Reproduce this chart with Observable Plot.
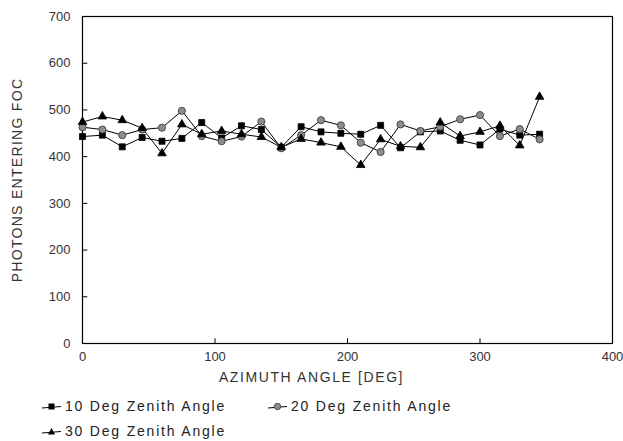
<!DOCTYPE html>
<html>
<head>
<meta charset="utf-8">
<script src="https://cdn.jsdelivr.net/npm/d3@7"></script>
<script src="https://cdn.jsdelivr.net/npm/@observablehq/plot@0.6"></script>
<style>
  body { margin: 0; background: #fff; font-family: "Liberation Sans", Arial, sans-serif; }
  #chart svg { display: block; }
  .legend { position: relative; height: 49px; width: 623px; font-size: 14px; letter-spacing: 1.8px; color: #222; }
  .item { position: absolute; display: flex; align-items: center; }
  .item svg { margin-right: 4px; }
</style>
</head>
<body>
<div id="chart"></div>
<div class="legend" id="legend"></div>
<script>
const azimuth = [0, 15, 30, 45, 60, 75, 90, 105, 120, 135, 150, 165, 180, 195, 210, 225, 240, 255, 270, 285, 300, 315, 330, 345];
const zenith10 = [443, 446, 421, 441, 433, 439, 473, 440, 466, 458, 420, 464, 453, 450, 448, 467, 419, 453, 455, 435, 425, 459, 446, 448];
const zenith20 = [463, 458, 446, 458, 462, 498, 444, 433, 443, 475, 418, 446, 478, 467, 430, 410, 469, 455, 464, 480, 489, 444, 459, 437];
const zenith30 = [474, 486, 478, 461, 407, 469, 448, 455, 448, 442, 420, 438, 430, 421, 382, 437, 422, 420, 473, 444, 453, 466, 424, 528];
const seriesNames = ["10 Deg Zenith Angle", "20 Deg Zenith Angle", "30 Deg Zenith Angle"];
const xTicks = [0, 100, 200, 300, 400];
const yTicks = [0, 100, 200, 300, 400, 500, 600, 700];

const styles = [
  {symbol: "square", fill: "#000", stroke: "#000", r: 3.4},
  {symbol: "circle", fill: "#8c8c8c", stroke: "#333", r: 3.6},
  {symbol: "triangle", fill: "#000", stroke: "#000", r: 3.2}
];
const values = [zenith10, zenith20, zenith30];
const rows = values.map((vals, i) => azimuth.map((a, j) => ({az: a, v: vals[j], s: seriesNames[i]})));

const marks = [Plot.frame({stroke: "#000", strokeWidth: 1.2})];
rows.forEach((data) => {
  marks.push(Plot.line(data, {x: "az", y: "v", stroke: "#000", strokeWidth: 1}));
});
rows.forEach((data, i) => {
  const st = styles[i];
  marks.push(Plot.dot(data, {x: "az", y: "v", symbol: () => st.symbol, r: st.r, fill: st.fill, stroke: st.stroke, strokeWidth: 0.8}));
});
marks.push(Plot.axisY(yTicks, {tickSize: 0, tickPadding: 12, fontSize: 13, fill: "#333", label: null}));
marks.push(Plot.axisX(xTicks, {tickSize: 0, tickPadding: 8, fontSize: 13, fill: "#333", label: null}));
// inward tick marks
marks.push(Plot.ruleY(yTicks.slice(1, -1), {y: d => d, x1: 0, x2: 4, stroke: "#000"}));
marks.push(Plot.ruleX(xTicks.slice(1, -1), {x: d => d, y1: 0, y2: 10, stroke: "#000"}));
marks.push(Plot.text(["AZIMUTH ANGLE [DEG]"], {frameAnchor: "bottom", dx: -36, dy: 38, fontSize: 14, fill: "#333"}));
marks.push(Plot.text(["PHOTONS ENTERING FOC"], {frameAnchor: "left", dx: -65, rotate: -90, textAnchor: "middle", fontSize: 14, fill: "#333"}));

const chart = Plot.plot({
  width: 623,
  height: 392,
  marginLeft: 82,
  marginRight: 11,
  marginTop: 16,
  marginBottom: 49,
  style: {fontFamily: "'Liberation Sans', Arial, sans-serif", background: "#fff"},
  x: {domain: [0, 400], axis: null},
  y: {domain: [0, 700], axis: null},
  marks
});
chart.querySelectorAll("text").forEach(t => {
  if (t.textContent === "PHOTONS ENTERING FOC") t.setAttribute("letter-spacing", "1.3");
  if (t.textContent === "AZIMUTH ANGLE [DEG]") t.setAttribute("letter-spacing", "1.6");
});
document.getElementById("chart").appendChild(chart);

// legend
const legend = document.getElementById("legend");
const pos = [{left: 42, top: 6}, {left: 268, top: 6}, {left: 42, top: 31}];
seriesNames.forEach((name, i) => {
  const st = styles[i];
  const item = document.createElement("div");
  item.className = "item";
  item.style.left = pos[i].left + "px";
  item.style.top = pos[i].top + "px";
  let marker;
  if (st.symbol === "square") marker = `<rect x="6.5" y="3.5" width="6" height="6" fill="${st.fill}"/>`;
  else if (st.symbol === "circle") marker = `<circle cx="9.5" cy="6.5" r="3.2" fill="${st.fill}" stroke="${st.stroke}" stroke-width="0.8"/>`;
  else marker = `<path d="M9.5,3L13,9.5L6,9.5Z" fill="${st.fill}"/>`;
  item.innerHTML = `<svg width="19" height="13"><line x1="0" y1="8" x2="19" y2="6.5" stroke="#000" stroke-width="1"/>${marker}</svg><span>${name}</span>`;
  legend.appendChild(item);
});
</script>
</body>
</html>
